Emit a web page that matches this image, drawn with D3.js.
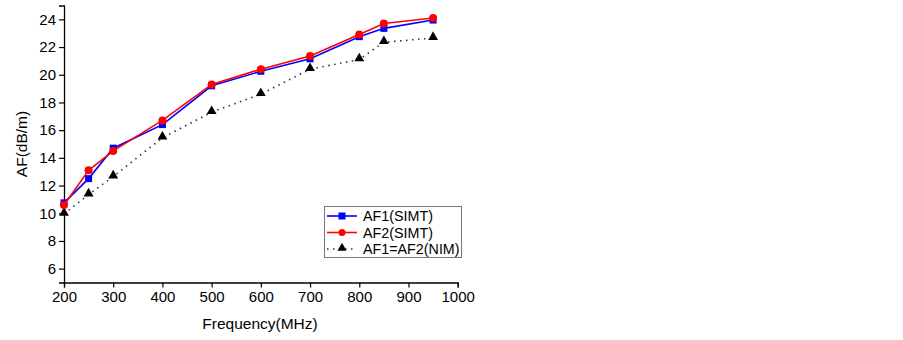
<!DOCTYPE html>
<html>
	<head>
		<script src="https://d3js.org/d3.v7.min.js"></script>
		<style>
			body {
				margin: 0;
				background: #fff;
			}
			text {
				font-family: Arial, 'Liberation Sans', sans-serif;
			}
		</style>
	</head>
	<body>
		<svg id="chart" width="903" height="340"></svg>
		<script>
			// data
			const freq = [200, 250, 300, 400, 500, 600, 700, 800, 850, 950];
			const af1Simt = [10.75, 12.5, 14.7, 16.4, 19.2, 20.25, 21.15, 22.75, 23.35, 23.95];
			const af2Simt = [10.6, 13.1, 14.5, 16.7, 19.3, 20.4, 21.35, 22.9, 23.7, 24.1];
			const afNim = [9.95, 11.35, 12.65, 15.45, 17.3, 18.6, 20.4, 21.1, 22.35, 22.65];

			const xTicks = [200, 300, 400, 500, 600, 700, 800, 900, 1000];
			const yTicks = [6, 8, 10, 12, 14, 16, 18, 20, 22, 24];

			const svg = d3.select('svg#chart');

			const x = d3.scaleLinear().domain([200, 1000]).range([64, 457.7]);
			const y = d3.scaleLinear().domain([5, 25]).range([282.5, 5.5]);

			// axes
			const xAxis = svg.append('g').attr('transform', 'translate(0,282.5)');
			xAxis.call(d3.axisBottom(x).tickValues(d3.range(250, 1000, 100)).tickSize(3).tickFormat(''));
			xAxis.call(d3.axisBottom(x).tickValues(xTicks).tickSize(5).tickPadding(4).tickFormat(d3.format('d')));
			const yAxis = svg.append('g').attr('transform', 'translate(64,0)');
			yAxis.call(d3.axisLeft(y).tickValues(d3.range(5, 26, 1)).tickSize(3).tickFormat(''));
			yAxis.call(d3.axisLeft(y).tickValues(yTicks).tickSize(5).tickPadding(3));

			svg.selectAll('.domain').attr('stroke', '#000').attr('stroke-width', 1.3);
			svg.selectAll('.tick line').attr('stroke', '#000').attr('stroke-width', 1.2);
			svg.selectAll('.tick text').attr('font-size', 15).attr('fill', '#000');

			svg.append('text')
				.attr('x', 260)
				.attr('y', 329)
				.attr('text-anchor', 'middle')
				.attr('font-size', 15.5)
				.text('Frequency(MHz)');

			svg.append('text')
				.attr('transform', 'translate(27,144) rotate(-90)')
				.attr('text-anchor', 'middle')
				.attr('font-size', 15.5)
				.text('AF(dB/m)');

			const line = d3.line()
				.x((d) => x(d[0]))
				.y((d) => y(d[1]));

			const blueData = freq.map((f, i) => [f, af1Simt[i]]);
			const redData = freq.map((f, i) => [f, af2Simt[i]]);
			const blackData = freq.map((f, i) => [f, afNim[i]]);

			// NIM dotted line
			svg.append('path')
				.datum(blackData)
				.attr('d', line)
				.attr('fill', 'none')
				.attr('stroke', '#333')
				.attr('stroke-width', 1.6)
				.attr('stroke-dasharray', '1.5,4.5');
			svg.selectAll('path.tri')
				.data(blackData)
				.join('path')
				.attr('class', 'tri')
				.attr('d', d3.symbol(d3.symbolTriangle, 42))
				.attr('transform', (d) => `translate(${x(d[0])},${y(d[1]) - 1})`)
				.attr('fill', '#000');

			// AF1 blue
			svg.append('path')
				.datum(blueData)
				.attr('d', line)
				.attr('fill', 'none')
				.attr('stroke', '#0000ff')
				.attr('stroke-width', 1.6);
			svg.selectAll('rect.sq')
				.data(blueData)
				.join('rect')
				.attr('class', 'sq')
				.attr('x', (d) => x(d[0]) - 3.5)
				.attr('y', (d) => y(d[1]) - 3.5)
				.attr('width', 7)
				.attr('height', 7)
				.attr('fill', '#0000ff');

			// AF2 red
			svg.append('path')
				.datum(redData)
				.attr('d', line)
				.attr('fill', 'none')
				.attr('stroke', '#ff0000')
				.attr('stroke-width', 1.6);
			svg.selectAll('circle.dot')
				.data(redData)
				.join('circle')
				.attr('class', 'dot')
				.attr('cx', (d) => x(d[0]))
				.attr('cy', (d) => y(d[1]))
				.attr('r', 4)
				.attr('fill', '#ff0000');

			// legend
			const legend = svg.append('g');
			legend.append('rect')
				.attr('x', 324.5)
				.attr('y', 206.5)
				.attr('width', 137)
				.attr('height', 51)
				.attr('fill', '#fff')
				.attr('stroke', '#777')
				.attr('stroke-width', 1);

			const rows = [
				{ label: 'AF1(SIMT)', color: '#0000ff', mark: 'square', dash: null },
				{ label: 'AF2(SIMT)', color: '#ff0000', mark: 'circle', dash: null },
				{ label: 'AF1=AF2(NIM)', color: '#000', mark: 'triangle', dash: '1.5,4.5' }
			];
			rows.forEach((r, i) => {
				const cy = 216 + i * 16.5;
				legend.append('line')
					.attr('x1', 327)
					.attr('x2', 357)
					.attr('y1', cy)
					.attr('y2', cy)
					.attr('stroke', r.color === '#000' ? '#333' : r.color)
					.attr('stroke-width', 1.6)
					.attr('stroke-dasharray', r.dash);
				if (r.mark === 'square') {
					legend.append('rect').attr('x', 338.5).attr('y', cy - 3.5).attr('width', 7).attr('height', 7).attr('fill', r.color);
				} else if (r.mark === 'circle') {
					legend.append('circle').attr('cx', 342).attr('cy', cy).attr('r', 3.5).attr('fill', r.color);
				} else {
					legend.append('path')
						.attr('d', d3.symbol(d3.symbolTriangle, 36))
						.attr('transform', `translate(342,${cy - 1})`)
						.attr('fill', '#000');
				}
				legend.append('text')
					.attr('x', 363)
					.attr('y', cy + 5)
					.attr('font-size', 14.3)
					.text(r.label);
			});
		</script>
	</body>
</html>
